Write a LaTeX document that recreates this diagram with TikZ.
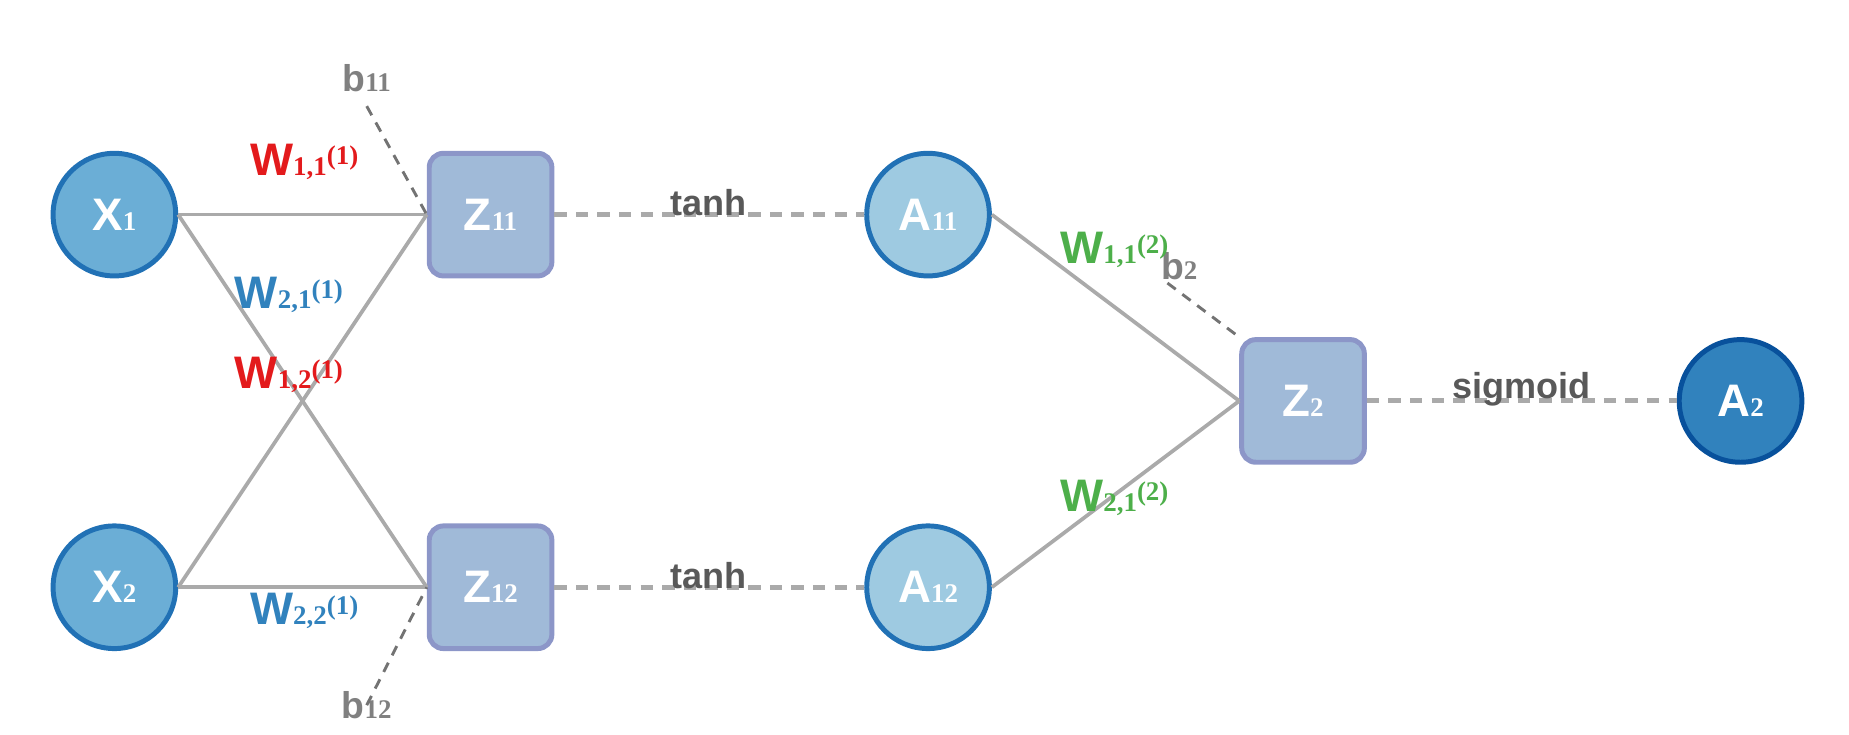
\documentclass[tikz,border=0pt]{standalone}
\usepackage{fontspec}
\setmainfont{Liberation Sans}
\newfontfamily\serifb{Liberation Serif}
\usetikzlibrary{arrows}
\definecolor{inblue}{RGB}{107,174,214}
\definecolor{actblue}{RGB}{158,202,225}
\definecolor{outblue}{RGB}{49,130,189}
\definecolor{bordo}{RGB}{33,113,181}
\definecolor{bordout}{RGB}{8,81,156}
\definecolor{sqfill}{RGB}{160,186,216}
\definecolor{sqbordo}{RGB}{140,150,200}
\definecolor{linea}{RGB}{170,170,170}
\definecolor{rosso}{RGB}{227,26,28}
\definecolor{blu}{RGB}{49,130,189}
\definecolor{verde}{RGB}{77,175,74}
\newcommand{\pedice}[1]{{\serifb\bfseries\fontsize{6.5}{6.5}\selectfont #1}}
\newcommand{\nome}[2]{#1\pedice{#2}}
\newcommand{\peso}[3]{W\pedice{#1,#2}\raisebox{2.5pt}{\pedice{(#3)}}}

\begin{document}
\begin{tikzpicture}[
    ingresso/.style={circle, draw=bordo, line width=1.2pt, fill=inblue, minimum size=1.04cm,
        text=white, font=\bfseries\fontsize{11}{11}\selectfont},
    attiv/.style={ingresso, fill=actblue},
    uscita/.style={ingresso, fill=outblue, draw=bordout},
    somma/.style={rectangle, rounded corners=0.12cm, draw=sqbordo, line width=1.2pt, fill=sqfill,
        minimum size=1.04cm, text=white, font=\bfseries\fontsize{11}{11}\selectfont},
    arco/.style={draw=linea, line width=0.9pt},
    funz/.style={draw=linea, line width=1.2pt, dash pattern=on 3pt off 2.2pt},
    bias/.style={draw=gray!90!black, line width=0.7pt, dash pattern=on 2.5pt off 2pt},
    etfunz/.style={text=black!65, font=\bfseries\fontsize{8.7}{8.7}\selectfont},
    etbias/.style={text=gray, font=\bfseries\fontsize{9}{9}\selectfont},
    etpeso/.style={font=\bfseries\fontsize{11}{11}\selectfont}]
    \useasboundingbox (0,0) rectangle (15.68,6.23);
    %nodi
    \node[ingresso] (x1) at (0.97,4.41) {\nome{X}{1}};
    \node[ingresso] (x2) at (0.97,1.25) {\nome{X}{2}};
    \node[somma] (z11) at (4.16,4.41) {\nome{Z}{11}};
    \node[somma] (z12) at (4.16,1.25) {\nome{Z}{12}};
    \node[attiv] (a11) at (7.87,4.41) {\nome{A}{11}};
    \node[attiv] (a12) at (7.87,1.25) {\nome{A}{12}};
    \node[somma] (z2) at (11.05,2.83) {\nome{Z}{2}};
    \node[uscita] (a2) at (14.76,2.83) {\nome{A}{2}};
    %bias
    \node[etbias] (b11) at (3.11,5.57) {b\pedice{11}};
    \node[etbias] (b12) at (3.11,0.25) {b\pedice{12}};
    \node[etbias] (b2) at (10.00,3.97) {b\pedice{2}};
    %archi
    \draw[arco] (x1.east) -- (z11.west);
    \draw[arco] (x1.east) -- (z12.west);
    \draw[arco] (x2.east) -- (z11.west);
    \draw[arco] (x2.east) -- (z12.west);
    \draw[arco] (a11.east) -- (z2.west);
    \draw[arco] (a12.east) -- (z2.west);
    \draw[bias] (b11.south) -- (z11.west);
    \draw[bias] (b12.center) -- (z12.west);
    \draw[bias] ([xshift=-1mm,yshift=1mm]b2.south) -- (z2.north west);
    %attivazioni
    \draw[funz] (z11.east) -- (a11.west);
    \draw[funz] (z12.east) -- (a12.west);
    \draw[funz] (z2.east) -- (a2.west);
    \node[etfunz] (t1) at (6.01,4.51) {tanh};
    \node[etfunz] (t2) at (6.01,1.35) {tanh};
    \node[etfunz] (sg) at (12.90,2.93) {sigmoid};
    %pesi
    \node[etpeso, text=rosso] (w111) at (2.58,4.86) {\peso{1}{1}{1}};
    \node[etpeso, text=blu] (w211) at (2.45,3.73) {\peso{2}{1}{1}};
    \node[etpeso, text=rosso] (w121) at (2.45,3.05) {\peso{1}{2}{1}};
    \node[etpeso, text=blu] (w221) at (2.58,1.05) {\peso{2}{2}{1}};
    \node[etpeso, text=verde] (w112) at (9.45,4.11) {\peso{1}{1}{2}};
    \node[etpeso, text=verde] (w212) at (9.45,2.01) {\peso{2}{1}{2}};
\end{tikzpicture}
\end{document}
